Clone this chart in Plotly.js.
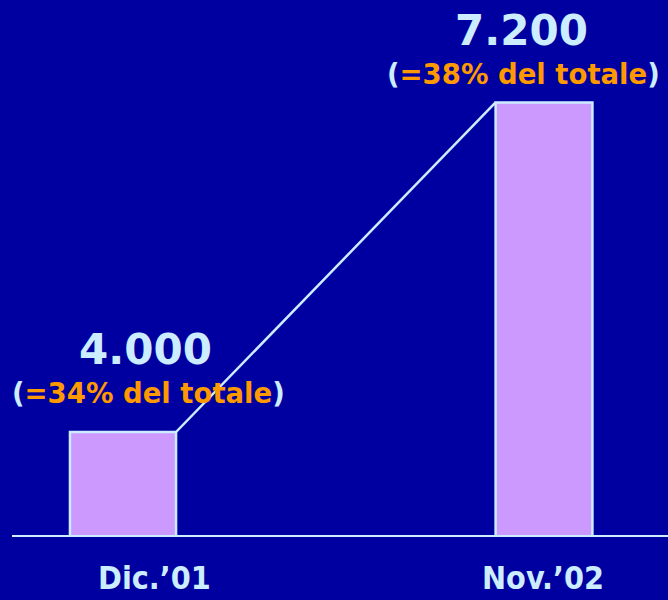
<!DOCTYPE html>
<html>
<head>
<meta charset="utf-8">
<script src="https://cdn.plot.ly/plotly-3.0.1.min.js"></script>
<style>html,body{margin:0;padding:0;background:#0000A0;}#chart{width:668px;height:600px;}</style>
</head>
<body>
<div id="chart"></div>
<script>
const categories = ["Dic.’01", "Nov.’02"];
const values = [4000, 7200];
const valueLabels = ["4.000", "7.200"];
const shareLabels = ["34%", "38%"];

const LIGHT = "#CCECFF";
const ORANGE = "#FF9900";
const xs = categories.map((c, i) => i);
const widths = [0.252, 0.23];

const bars = {
  type: "bar",
  x: xs,
  y: values,
  width: widths,
  marker: { color: "#CC99FF", line: { color: LIGHT, width: 2.5 } },
  hoverinfo: "none"
};
const link = {
  type: "scatter",
  mode: "lines",
  x: [xs[0] + widths[0] / 2, xs[1] - widths[1] / 2],
  y: [values[0], values[1]],
  line: { color: LIGHT, width: 2.5 },
  hoverinfo: "none"
};

const valShift = [{x: 22, y: 83}, {x: -23, y: 72}];
const subShift = [{x: 25, y: 39}, {x: -21, y: 28}];
const catShift = [31, -1];
const annotations = [];
categories.forEach((c, i) => {
  annotations.push({
    x: xs[i], y: values[i], xref: "x", yref: "y",
    text: "<b>" + valueLabels[i] + "</b>",
    showarrow: false, xanchor: "center", yanchor: "middle",
    xshift: valShift[i].x, yshift: valShift[i].y,
    font: { family: "DejaVu Sans", size: 42, color: LIGHT, weight: "bold" }
  });
  annotations.push({
    x: xs[i], y: values[i], xref: "x", yref: "y",
    text: "<b>(<span style=\"color:" + ORANGE + "\">=" + shareLabels[i] + " del totale</span>)</b>",
    showarrow: false, xanchor: "center", yanchor: "middle",
    xshift: subShift[i].x, yshift: subShift[i].y,
    font: { family: "DejaVu Sans", size: 27.5, color: LIGHT, weight: "bold" }
  });
  annotations.push({
    x: xs[i], y: 0, xref: "x", yref: "paper",
    text: "<b>" + c + "</b>",
    showarrow: false, xanchor: "center", yanchor: "middle",
    xshift: catShift[i], yshift: -43, borderpad: 0,
    font: { family: "DejaVu Sans Condensed, DejaVu Sans", size: 32, color: LIGHT, weight: "bold" }
  });
});

const layout = {
  width: 668, height: 600,
  paper_bgcolor: "#0000A0",
  plot_bgcolor: "#0000A0",
  margin: { l: 12, r: 0, t: 20, b: 65 },
  showlegend: false,
  xaxis: {
    range: [-0.2637, 1.2945],
    showgrid: false, zeroline: false, showticklabels: false, ticks: "",
    showline: true, linecolor: LIGHT, linewidth: 2
  },
  yaxis: {
    range: [3000, 8000],
    showgrid: false, zeroline: false, showticklabels: false, ticks: "", showline: false
  },
  annotations: annotations
};

Plotly.newPlot("chart", [bars, link], layout, { displayModeBar: false, staticPlot: true });
</script>
</body>
</html>
